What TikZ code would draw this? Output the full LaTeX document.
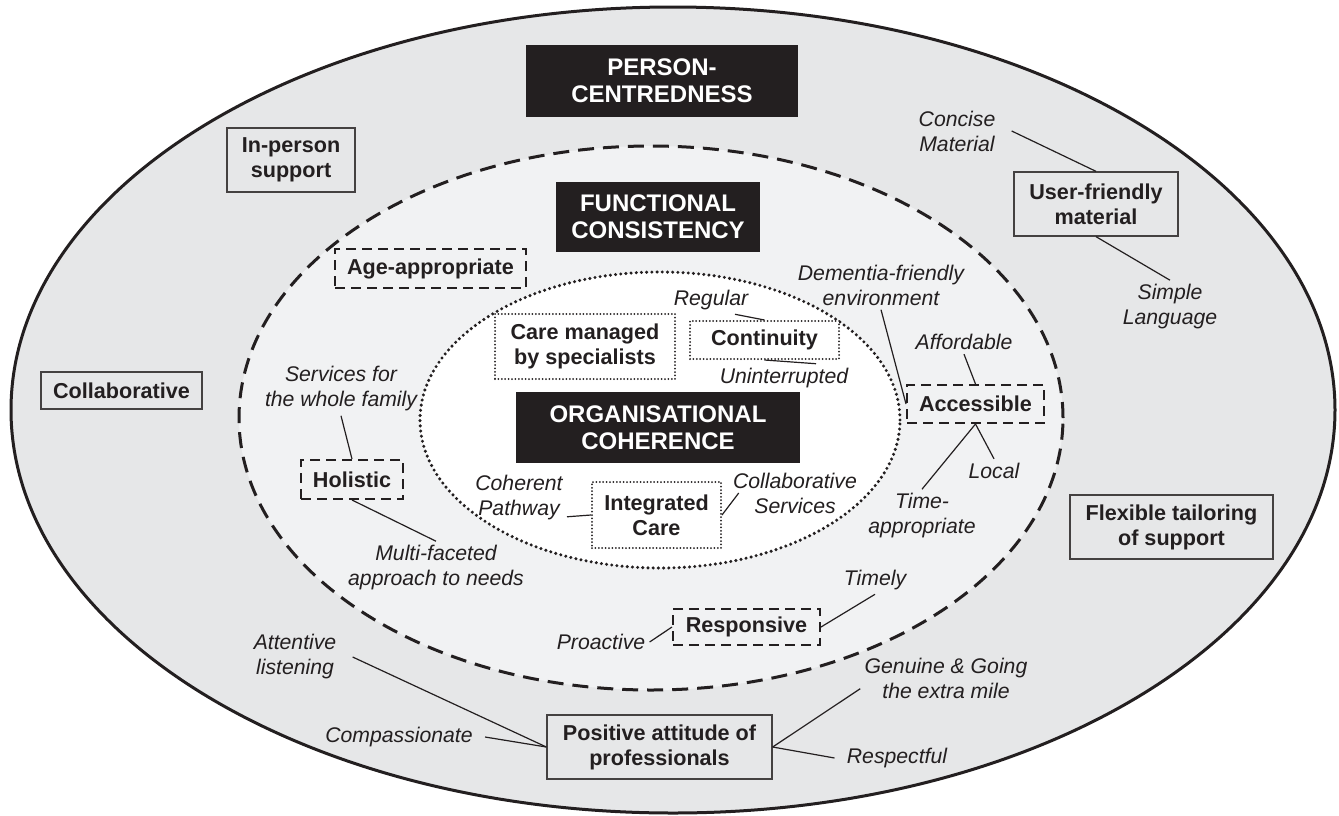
\documentclass[tikz,border=0pt]{standalone}
\usepackage{fontspec}
\setmainfont{Liberation Sans}
\definecolor{ringout}{RGB}{230,231,232}
\definecolor{ringmid}{RGB}{241,242,243}
\definecolor{ink}{RGB}{35,31,32}
\begin{document}
\begin{tikzpicture}[x=0.5pt, y=-0.5pt,
    title/.style={fill=ink, text=white, font=\fontsize{12}{13.5}\selectfont\bfseries, align=center, inner sep=0pt},
    solidbox/.style={draw=ink!85, line width=0.65pt, fill=ringout, text=ink, font=\fontsize{10.8}{12.5}\selectfont\bfseries, align=center, inner sep=0pt},
    dashbox/.style={solidbox, draw=ink, line width=1pt, dash pattern=on 5pt off 3pt, fill=ringmid},
    dotbox/.style={solidbox, draw=ink, line width=1pt, dash pattern=on 0pt off 1.7pt, line cap=round, fill=white},
    note/.style={font=\fontsize{10.6}{12.5}\selectfont\itshape, text=ink, align=center, inner sep=2pt},
    link/.style={draw=ink, line width=0.6pt}]
    \useasboundingbox (0,0) rectangle (1339,815);

    % the three rings
    \draw[ink, line width=1.5pt, fill=ringout] (673,410) ellipse [x radius=331pt, y radius=201.5pt];
    \draw[ink, line width=1.5pt, dash pattern=on 8pt off 4.5pt, fill=ringmid] (651,418) ellipse [x radius=206pt, y radius=136pt];
    \draw[ink, line width=1.7pt, dash pattern=on 0pt off 2.6pt, line cap=round, fill=white] (660,420) ellipse [x radius=120pt, y radius=74pt];

    % ring titles
    \node[title, minimum width=136pt, minimum height=36pt] (t-pc) at (662,81) {PERSON-\\CENTREDNESS};
    \node[title, minimum width=102pt, minimum height=35pt] (t-fc) at (658,217) {FUNCTIONAL\\CONSISTENCY};
    \node[title, minimum width=142pt, minimum height=35.5pt] (t-oc) at (658,427.5) {ORGANISATIONAL\\COHERENCE};

    % outer ring
    \node[solidbox, minimum width=64pt, minimum height=32pt] (inperson) at (291,160) {In-person\\support};
    \node[solidbox, minimum width=80.5pt, minimum height=18.5pt] (collab) at (121.5,390.5) {Collaborative};
    \node[solidbox, minimum width=82pt, minimum height=32pt] (userfr) at (1096,204) {User-friendly\\material};
    \node[solidbox, minimum width=101.5pt, minimum height=32pt] (flexible) at (1171.5,527) {Flexible tailoring\\of support};
    \node[solidbox, minimum width=112.5pt, minimum height=32pt] (positive) at (659.5,747) {Positive attitude of\\professionals};

    \node[note] (concise) at (957,131) {Concise\\Material};
    \node[note] (simple) at (1170,307) {Simple\\Language};
    \node[note] (attentive) at (295,657) {Attentive\\listening};
    \node[note] (compass) at (399,737) {Compassionate};
    \node[note] (genuine) at (946,678) {Genuine \& Going\\the extra mile};
    \node[note] (respect) at (897,758) {Respectful};

    \draw[link] ([xshift=6pt]concise.east) -- (userfr.north);
    \draw[link] (userfr.south) -- (simple.north);
    \draw[link] ([xshift=6pt]attentive.east) -- (positive.west);
    \draw[link] ([xshift=4pt]compass.east) -- (positive.west);
    \draw[link] ([yshift=7pt]genuine.south west) -- (positive.east);
    \draw[link] ([xshift=-4pt]respect.west) -- (positive.east);

    % middle ring
    \node[dashbox, minimum width=95.5pt, minimum height=19.5pt] (ageapp) at (430.5,268.5) {Age-appropriate};
    \node[dashbox, minimum width=51pt, minimum height=19.5pt] (holistic) at (352,479.5) {Holistic};
    \node[dashbox, minimum width=68.5pt, minimum height=19pt] (access) at (975.5,404) {Accessible};
    \node[dashbox, minimum width=73.5pt, minimum height=18pt] (respond) at (746.5,627) {Responsive};

    \node[note] (services) at (341,389) {Services for\\the whole family};
    \node[note] (multi) at (436,568) {Multi-faceted\\approach to needs};
    \node[note] (dementia) at (881,285) {Dementia-friendly\\environment};
    \node[note] (afford) at (964,342) {Affordable};
    \node[note] (local) at (994,471) {Local};
    \node[note] (timeapp) at (922,516) {Time-\\appropriate};
    \node[note] (timely) at (875,580) {Timely};
    \node[note] (proactive) at (601,642) {Proactive};

    \draw[link] (services.south) -- (holistic.north);
    \draw[link] (holistic.south) -- (multi.north);
    \draw[link] (dementia.south) -- (access.west);
    \draw[link] (afford.south) -- (access.north);
    \draw[link] (access.south) -- (local.north);
    \draw[link] (timeapp.north) -- (access.south);
    \draw[link] (timely.south) -- (respond.east);
    \draw[link] (proactive.east) -- (respond.west);

    % inner ring
    \node[dotbox, minimum width=90pt, minimum height=32.5pt] (specialist) at (585,346.5) {Care managed\\by specialists};
    \node[dotbox, minimum width=74.5pt, minimum height=19pt] (continuity) at (764.5,340) {Continuity};
    \node[dotbox, minimum width=64.5pt, minimum height=33pt] (integrated) at (656.5,515) {Integrated\\Care};

    \node[note] (regular) at (711,300) {Regular};
    \node[note] (uninter) at (784,378) {Uninterrupted};
    \node[note] (coherent) at (519,498) {Coherent\\Pathway};
    \node[note] (collabsvc) at (795,493) {Collaborative\\Services};

    \draw[link] ([xshift=12pt]regular.south) -- (continuity.north);
    \draw[link] (continuity.south) -- ([xshift=16pt]uninter.north);
    \draw[link] ([yshift=4pt]coherent.south east) -- (integrated.west);
    \draw[link] ([xshift=5pt]collabsvc.west) -- (integrated.east);
\end{tikzpicture}
\end{document}
